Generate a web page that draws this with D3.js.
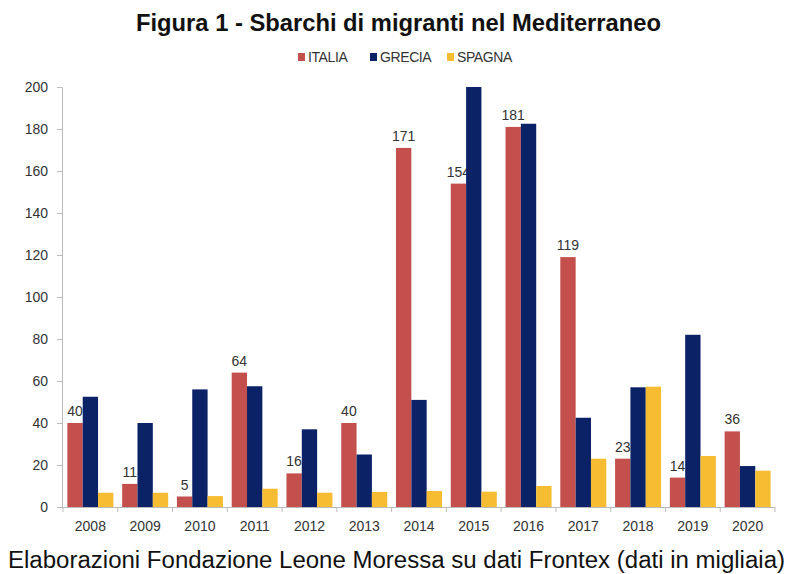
<!DOCTYPE html>
<html>
<head>
<meta charset="utf-8">
<script src="https://cdn.jsdelivr.net/npm/d3@7"></script>
<style>
  body { margin: 0; background: #fff; }
  svg { display: block; font-family: 'Liberation Sans', Arial, sans-serif; }
</style>
</head>
<body>
<svg id="chart" width="791" height="574"></svg>
<script>
const years = ['2008', '2009', '2010', '2011', '2012', '2013', '2014', '2015', '2016', '2017', '2018', '2019', '2020'];
const seriesNames = ['ITALIA', 'GRECIA', 'SPAGNA'];
const italia = [40, 11, 5, 64, 16, 40, 171, 154, 181, 119, 23, 14, 36];
const grecia = [52.5, 40, 56, 57.5, 37, 25, 51, 200, 182.5, 42.5, 57, 82, 19.5];
const spagna = [6.8, 6.8, 5.2, 8.7, 6.8, 7.2, 7.6, 7.3, 10, 23, 57.3, 24.3, 17.3];
const yTicks = [0, 20, 40, 60, 80, 100, 120, 140, 160, 180, 200];
const colors = ['#C4504D', '#0B2266', '#F7BD32'];

const svg = d3.select('#chart');
const plot = {left: 63, right: 775, top: 87, bottom: 507};

const x0 = d3
  .scaleBand()
  .domain(years)
  .range([plot.left, plot.right])
  .paddingInner(0.16)
  .paddingOuter(0.08);

const x1 = d3
  .scaleBand()
  .domain(seriesNames)
  .range([0, x0.bandwidth()]);

const y = d3
  .scaleLinear()
  .domain([0, 200])
  .range([plot.bottom, plot.top]);

// Title
svg
  .append('text')
  .attr('x', 136)
  .attr('y', 31)
  .attr('textLength', 525)
  .attr('lengthAdjust', 'spacingAndGlyphs')
  .style('font-size', '24px')
  .style('font-weight', 'bold')
  .style('fill', '#111')
  .text('Figura 1 - Sbarchi di migranti nel Mediterraneo');

// Legend
const legendX = [298, 370, 447];
const gLegend = svg.append('g').attr('class', 'g_legend');
seriesNames.forEach((name, i) => {
  gLegend
    .append('rect')
    .attr('x', legendX[i])
    .attr('y', 53)
    .attr('width', 7)
    .attr('height', 8)
    .style('fill', colors[i]);
  gLegend
    .append('text')
    .attr('x', legendX[i] + 10)
    .attr('y', 62)
    .style('font-size', '14px')
    .style('letter-spacing', '-0.4px')
    .style('fill', '#333')
    .text(name);
});

// Y axis
const yAxis = svg
  .append('g')
  .attr('class', 'g_y_axis')
  .attr('transform', 'translate(' + (plot.left - 1) + ',0)')
  .call(d3.axisLeft(y).tickValues(yTicks).tickSize(5).tickPadding(9));
yAxis.select('.domain').style('stroke', '#bbb');
yAxis.selectAll('.tick line').style('stroke', '#bbb');
yAxis
  .selectAll('.tick text')
  .style('font-size', '14px')
  .style('fill', '#333')
  .style('font-family', "'Liberation Sans', Arial, sans-serif");

// X axis
const step = x0.step();
const boundaries = years.map(d => x0(d) - x0.paddingInner() * step / 2).concat([plot.right]);
const gX = svg.append('g').attr('class', 'g_x_axis');
gX
  .append('line')
  .attr('x1', plot.left - 1)
  .attr('x2', plot.right)
  .attr('y1', plot.bottom + 0.5)
  .attr('y2', plot.bottom + 0.5)
  .style('stroke', '#bbb');
gX
  .selectAll('.x_tick')
  .data(boundaries)
  .enter()
  .append('line')
  .attr('x1', d => d)
  .attr('x2', d => d)
  .attr('y1', plot.bottom)
  .attr('y2', plot.bottom + 5)
  .style('stroke', '#bbb');
gX
  .selectAll('.x_label')
  .data(years)
  .enter()
  .append('text')
  .attr('x', d => x0(d) + x0.bandwidth() / 2)
  .attr('y', 531)
  .attr('text-anchor', 'middle')
  .style('font-size', '14px')
  .style('fill', '#333')
  .text(d => d);

// Bars, one series at a time so later series cover earlier labels
const seriesValues = [italia, grecia, spagna];
seriesNames.forEach((name, s) => {
  const gSeries = svg.append('g').attr('class', 'g_series g_series_' + name);
  gSeries
    .selectAll('rect')
    .data(seriesValues[s])
    .enter()
    .append('rect')
    .attr('x', (d, i) => x0(years[i]) + x1(name))
    .attr('y', d => y(d))
    .attr('width', x1.bandwidth())
    .attr('height', d => y(0) - y(d))
    .style('fill', colors[s]);

  if (s == 0) {
    gSeries
      .selectAll('.bar_label')
      .data(seriesValues[s])
      .enter()
      .append('text')
      .attr('x', (d, i) => x0(years[i]) + x1(name) + x1.bandwidth() / 2)
      .attr('y', d => y(d) - 7)
      .attr('text-anchor', 'middle')
      .style('font-size', '14px')
      .style('fill', '#333')
      .text(d => d);
  }
});

// Source note
svg
  .append('text')
  .attr('x', 8)
  .attr('y', 568)
  .attr('textLength', 777)
  .attr('lengthAdjust', 'spacingAndGlyphs')
  .style('font-size', '23px')
  .style('fill', '#111')
  .text('Elaborazioni Fondazione Leone Moressa su dati Frontex (dati in migliaia)');
</script>
</body>
</html>
